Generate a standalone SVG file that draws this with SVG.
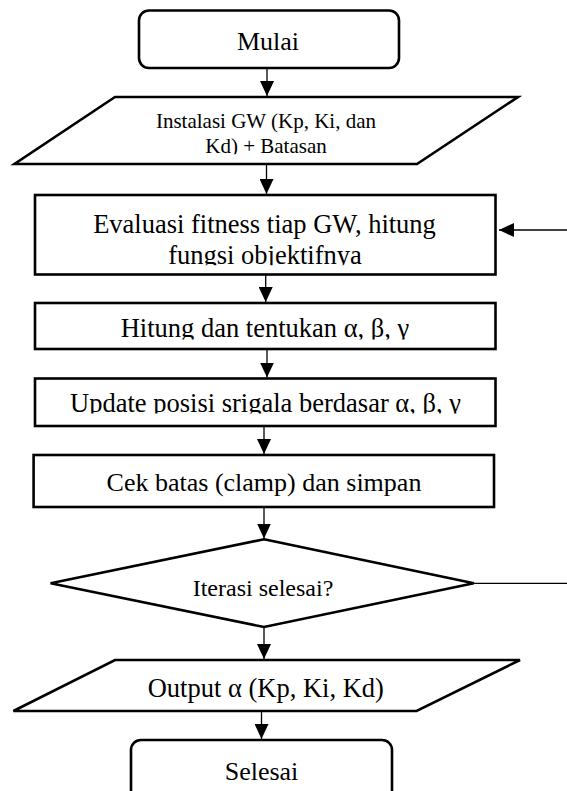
<svg xmlns="http://www.w3.org/2000/svg" width="567" height="791" viewBox="0 0 567 791">
<style>
.box{fill:#fff;stroke:#000;stroke-width:2.6;stroke-linejoin:miter}
.t{font-family:"Liberation Serif","Times New Roman",serif;fill:#000;text-anchor:middle}
.c{stroke:#000;stroke-width:1.3;fill:none}
</style>
<defs>
<marker id="ah" markerUnits="userSpaceOnUse" markerWidth="15" markerHeight="14" refX="15" refY="7" orient="auto">
<path d="M0,0 L15,7 L0,14 z" fill="#000"/>
</marker>
<clipPath id="clipInst"><rect x="14" y="97" width="504" height="57.3"/></clipPath>
<clipPath id="clipEval"><rect x="35" y="195" width="460" height="70.2"/></clipPath>
<clipPath id="clipHit"><rect x="35" y="303" width="460" height="36.5"/></clipPath>
<clipPath id="clipUpd"><rect x="35" y="378" width="460" height="35.5"/></clipPath>
</defs>
<rect width="567" height="791" fill="#fff"/>
<g id="connectors">
<line class="c" x1="267" y1="68" x2="267" y2="96" marker-end="url(#ah)"/>
<line class="c" x1="266.5" y1="164" x2="266.5" y2="194" marker-end="url(#ah)"/>
<line class="c" x1="265.7" y1="274.5" x2="265.7" y2="302" marker-end="url(#ah)"/>
<line class="c" x1="267" y1="349" x2="267" y2="377.5" marker-end="url(#ah)"/>
<line class="c" x1="264" y1="426" x2="264" y2="454" marker-end="url(#ah)"/>
<line class="c" x1="264" y1="507" x2="264" y2="538.5" marker-end="url(#ah)"/>
<line class="c" x1="264" y1="627" x2="264" y2="659" marker-end="url(#ah)"/>
<line class="c" x1="261.5" y1="711" x2="261.5" y2="739" marker-end="url(#ah)"/>
<line class="c" x1="567" y1="230" x2="499" y2="230" marker-end="url(#ah)"/>
<line class="c" x1="474" y1="583.3" x2="567" y2="583.3"/>
</g>
<g id="mulai">
<rect class="box" x="139" y="10.5" width="260" height="57.5" rx="10"/>
<text class="t" x="268" y="49.5" font-size="26">Mulai</text>
</g>
<g id="instalasi">
<polygon class="box" points="115,97 518,97 417,164 14.5,164"/>
<g clip-path="url(#clipInst)">
<text class="t" x="266" y="128.3" font-size="21">Instalasi GW (Kp, Ki, dan</text>
<text class="t" x="266" y="153.3" font-size="21">Kd) + Batasan</text>
</g>
</g>
<g id="evaluasi">
<rect class="box" x="35" y="195" width="460.5" height="79.5"/>
<g clip-path="url(#clipEval)">
<text class="t" x="264.5" y="232.5" font-size="26.5">Evaluasi fitness tiap GW, hitung</text>
<text class="t" x="265" y="263.5" font-size="26.5">fungsi objektifnya</text>
</g>
</g>
<g id="hitung">
<rect class="box" x="35" y="303" width="460.5" height="46"/>
<g clip-path="url(#clipHit)">
<text class="t" x="265" y="337" font-size="26.5">Hitung dan tentukan α, β, γ</text>
</g>
</g>
<g id="update">
<rect class="box" x="35" y="378.5" width="460.5" height="47.5"/>
<g clip-path="url(#clipUpd)">
<text class="t" x="265.5" y="412" font-size="26.5">Update posisi srigala berdasar α, β, γ</text>
</g>
</g>
<g id="cek">
<rect class="box" x="33.6" y="455" width="460.4" height="52"/>
<text class="t" x="264" y="490.5" font-size="26">Cek batas (clamp) dan simpan</text>
</g>
<g id="iterasi">
<polygon class="box" points="264,539.3 473.8,583.3 264,627 50.6,583.3"/>
<text class="t" x="263" y="596" font-size="24">Iterasi selesai?</text>
</g>
<g id="output">
<polygon class="box" points="115,660 520,660 416.6,711 13.4,711"/>
<text class="t" x="265.8" y="697" font-size="26.5">Output α (Kp, Ki, Kd)</text>
</g>
<g id="selesai">
<rect class="box" x="131" y="740" width="261" height="62" rx="10"/>
<text class="t" x="261.5" y="780" font-size="26">Selesai</text>
</g>
</svg>
